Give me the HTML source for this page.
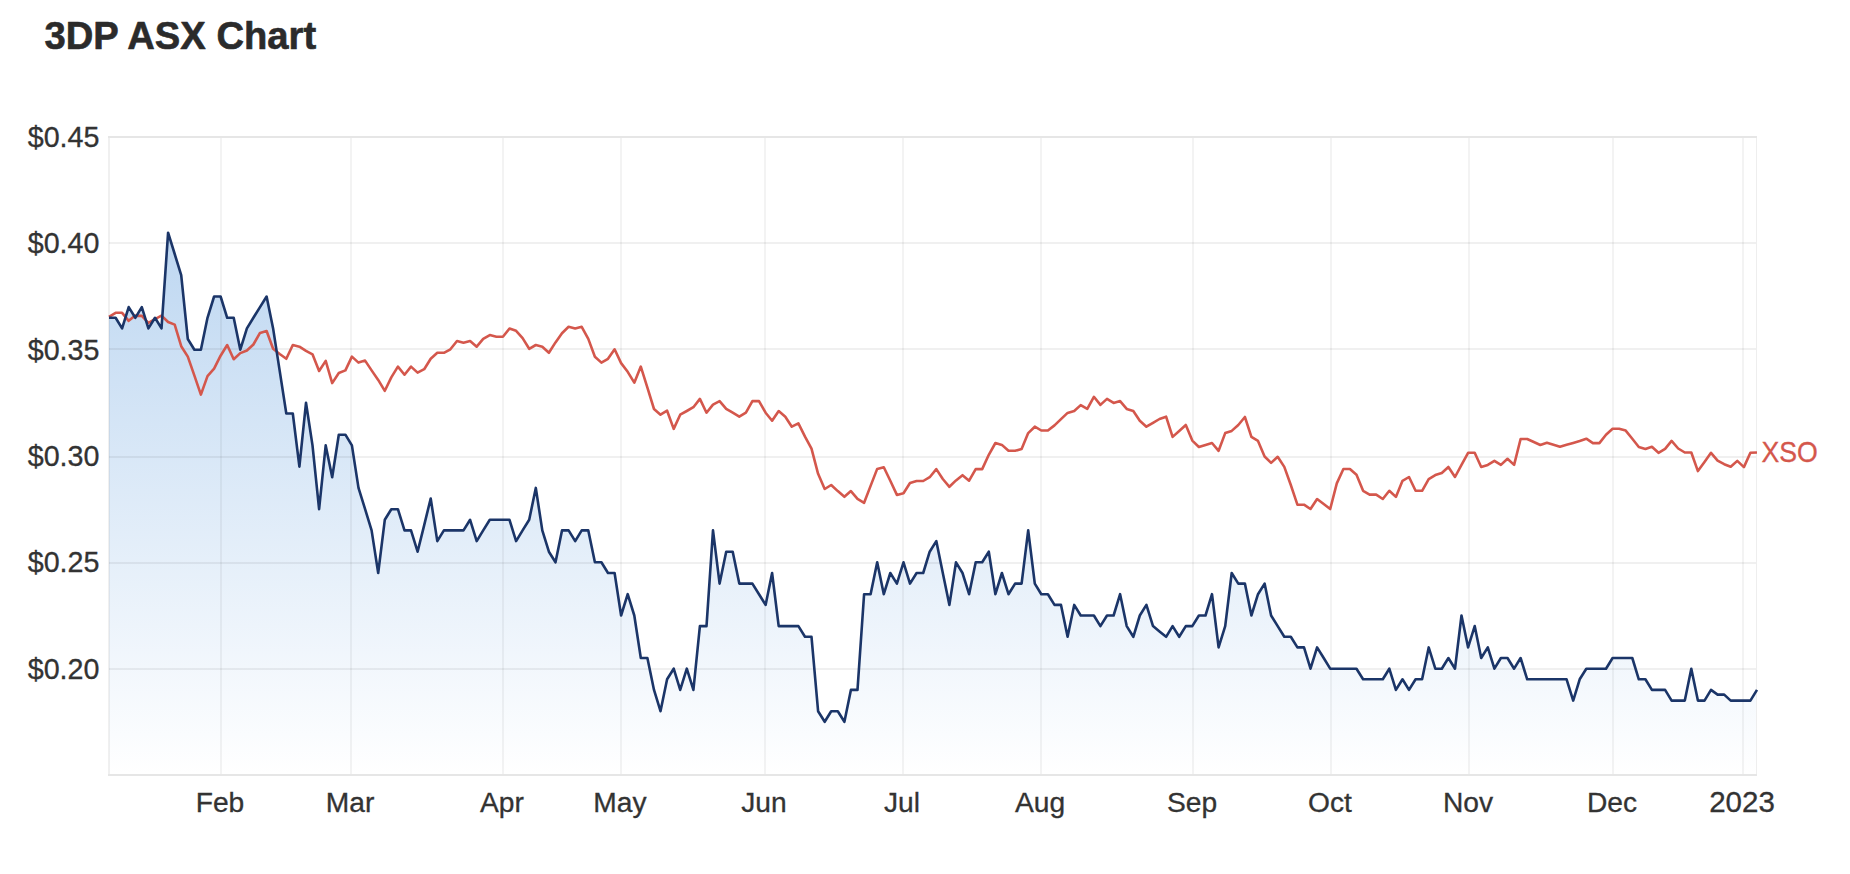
<!DOCTYPE html>
<html lang="en"><head><meta charset="utf-8"><title>3DP ASX Chart</title>
<style>html,body{margin:0;padding:0;background:#fff;}body{width:1850px;height:874px;position:relative;overflow:hidden;}</style></head>
<body>
<svg width="1850" height="874" viewBox="0 0 1850 874" style="position:absolute;left:0;top:0">
<defs><linearGradient id="g" x1="0" y1="0" x2="0" y2="1" gradientUnits="objectBoundingBox"><stop offset="0" stop-color="#4a90d9" stop-opacity="0.36"/><stop offset="1" stop-color="#4a90d9" stop-opacity="0"/></linearGradient></defs>
<path d="M109.0 317.8 L115.6 317.8 L122.1 328.4 L128.7 307.1 L135.3 317.8 L141.8 307.1 L148.4 328.4 L155.0 317.8 L161.5 328.4 L168.1 232.7 L174.7 254.0 L181.2 275.2 L187.8 339.0 L194.4 349.7 L200.9 349.7 L207.5 317.8 L214.1 296.5 L220.6 296.5 L227.2 317.8 L233.7 317.8 L240.3 349.7 L246.9 328.4 L253.4 317.8 L260.0 307.1 L266.6 296.5 L273.1 328.4 L279.7 370.9 L286.3 413.5 L292.8 413.5 L299.4 466.6 L306.0 402.8 L312.5 445.4 L319.1 509.2 L325.7 445.4 L332.2 477.3 L338.8 434.7 L345.4 434.7 L351.9 445.4 L358.5 487.9 L365.1 509.2 L371.6 530.4 L378.2 573.0 L384.8 519.8 L391.3 509.2 L397.9 509.2 L404.5 530.4 L411.0 530.4 L417.6 551.7 L424.2 525.1 L430.7 498.5 L437.3 541.1 L443.9 530.4 L450.4 530.4 L457.0 530.4 L463.5 530.4 L470.1 519.8 L476.7 541.1 L483.2 530.4 L489.8 519.8 L496.4 519.8 L502.9 519.8 L509.5 519.8 L516.1 541.1 L522.6 530.4 L529.2 519.8 L535.8 487.9 L542.3 530.4 L548.9 551.7 L555.5 562.3 L562.0 530.4 L568.6 530.4 L575.2 541.1 L581.7 530.4 L588.3 530.4 L594.9 562.3 L601.4 562.3 L608.0 573.0 L614.6 573.0 L621.1 615.5 L627.7 594.2 L634.3 615.5 L640.8 658.0 L647.4 658.0 L654.0 689.9 L660.5 711.2 L667.1 679.3 L673.7 668.7 L680.2 689.9 L686.8 668.7 L693.4 689.9 L699.9 626.1 L706.5 626.1 L713.0 530.4 L719.6 583.6 L726.2 551.7 L732.7 551.7 L739.3 583.6 L745.9 583.6 L752.4 583.6 L759.0 594.2 L765.6 604.9 L772.1 573.0 L778.7 626.1 L785.3 626.1 L791.8 626.1 L798.4 626.1 L805.0 636.8 L811.5 636.8 L818.1 711.2 L824.7 721.8 L831.2 711.2 L837.8 711.2 L844.4 721.8 L850.9 689.9 L857.5 689.9 L864.1 594.2 L870.6 594.2 L877.2 562.3 L883.8 594.2 L890.3 573.0 L896.9 583.6 L903.5 562.3 L910.0 583.6 L916.6 573.0 L923.2 573.0 L929.7 551.7 L936.3 541.1 L942.8 573.0 L949.4 604.9 L956.0 562.3 L962.5 573.0 L969.1 594.2 L975.7 562.3 L982.2 562.3 L988.8 551.7 L995.4 594.2 L1001.9 573.0 L1008.5 594.2 L1015.1 583.6 L1021.6 583.6 L1028.2 530.4 L1034.8 583.6 L1041.3 594.2 L1047.9 594.2 L1054.5 604.9 L1061.0 604.9 L1067.6 636.8 L1074.2 604.9 L1080.7 615.5 L1087.3 615.5 L1093.9 615.5 L1100.4 626.1 L1107.0 615.5 L1113.6 615.5 L1120.1 594.2 L1126.7 626.1 L1133.3 636.8 L1139.8 615.5 L1146.4 604.9 L1153.0 626.1 L1159.5 631.5 L1166.1 636.8 L1172.6 626.1 L1179.2 636.8 L1185.8 626.1 L1192.3 626.1 L1198.9 615.5 L1205.5 615.5 L1212.0 594.2 L1218.6 647.4 L1225.2 626.1 L1231.7 573.0 L1238.3 583.6 L1244.9 583.6 L1251.4 615.5 L1258.0 594.2 L1264.6 583.6 L1271.1 615.5 L1277.7 626.1 L1284.3 636.8 L1290.8 636.8 L1297.4 647.4 L1304.0 647.4 L1310.5 668.7 L1317.1 647.4 L1323.7 658.0 L1330.2 668.7 L1336.8 668.7 L1343.4 668.7 L1349.9 668.7 L1356.5 668.7 L1363.1 679.3 L1369.6 679.3 L1376.2 679.3 L1382.8 679.3 L1389.3 668.7 L1395.9 689.9 L1402.5 679.3 L1409.0 689.9 L1415.6 679.3 L1422.1 679.3 L1428.7 647.4 L1435.3 668.7 L1441.8 668.7 L1448.4 658.0 L1455.0 668.7 L1461.5 615.5 L1468.1 647.4 L1474.7 626.1 L1481.2 658.0 L1487.8 647.4 L1494.4 668.7 L1500.9 658.0 L1507.5 658.0 L1514.1 668.7 L1520.6 658.0 L1527.2 679.3 L1533.8 679.3 L1540.3 679.3 L1546.9 679.3 L1553.5 679.3 L1560.0 679.3 L1566.6 679.3 L1573.2 700.6 L1579.7 679.3 L1586.3 668.7 L1592.9 668.7 L1599.4 668.7 L1606.0 668.7 L1612.6 658.0 L1619.1 658.0 L1625.7 658.0 L1632.3 658.0 L1638.8 679.3 L1645.4 679.3 L1651.9 689.9 L1658.5 689.9 L1665.1 689.9 L1671.6 700.6 L1678.2 700.6 L1684.8 700.6 L1691.3 668.7 L1697.9 700.6 L1704.5 700.6 L1711.0 689.9 L1717.6 694.6 L1724.2 694.6 L1730.7 700.6 L1737.3 700.6 L1743.9 700.6 L1750.4 700.6 L1757.0 689.9 L1757 775 L109 775 Z" fill="url(#g)" stroke="none"/>
<g fill="#000" fill-opacity="0.057" shape-rendering="crispEdges">
<rect x="109" y="242" width="1648" height="2"/>
<rect x="109" y="348" width="1648" height="2"/>
<rect x="109" y="456" width="1648" height="2"/>
<rect x="109" y="562" width="1648" height="2"/>
<rect x="109" y="668" width="1648" height="2"/>
</g><g fill="#000" fill-opacity="0.046" shape-rendering="crispEdges">
<rect x="220" y="138" width="2" height="636"/>
<rect x="350" y="138" width="2" height="636"/>
<rect x="502" y="138" width="2" height="636"/>
<rect x="620" y="138" width="2" height="636"/>
<rect x="764" y="138" width="2" height="636"/>
<rect x="902" y="138" width="2" height="636"/>
<rect x="1040" y="138" width="2" height="636"/>
<rect x="1192" y="138" width="2" height="636"/>
<rect x="1330" y="138" width="2" height="636"/>
<rect x="1468" y="138" width="2" height="636"/>
<rect x="1612" y="138" width="2" height="636"/>
<rect x="1742" y="138" width="2" height="636"/>
</g>
<g shape-rendering="crispEdges">
<rect x="108" y="136" width="1649" height="2" fill="#e6e6e6"/>
<rect x="108" y="774" width="1649" height="2" fill="#e6e6e6"/>
<rect x="108" y="138" width="2" height="636" fill="#000" fill-opacity="0.06"/>
<rect x="1756" y="138" width="1" height="636" fill="#eeeeee"/>
</g>
<path d="M109.0 316.8 L115.6 312.8 L122.1 312.8 L128.7 320.8 L135.3 315.6 L141.8 315.9 L148.4 322.9 L155.0 319.1 L161.5 315.6 L168.1 322.0 L174.7 324.6 L181.2 346.2 L187.8 356.6 L194.4 375.6 L200.9 394.6 L207.5 376.1 L214.1 368.7 L220.6 355.7 L227.2 345.0 L233.7 359.2 L240.3 353.1 L246.9 350.5 L253.4 344.5 L260.0 332.9 L266.6 331.0 L273.1 348.8 L279.7 354.0 L286.3 358.8 L292.8 345.0 L299.4 346.7 L306.0 350.9 L312.5 354.3 L319.1 371.0 L325.7 360.9 L332.2 383.1 L338.8 373.0 L345.4 370.4 L351.9 356.6 L358.5 362.6 L365.1 360.6 L371.6 370.4 L378.2 379.9 L384.8 390.8 L391.3 377.4 L397.9 366.6 L404.5 374.7 L411.0 366.6 L417.6 372.6 L424.2 369.2 L430.7 358.8 L437.3 352.8 L443.9 352.8 L450.4 349.3 L457.0 341.0 L463.5 342.7 L470.1 341.0 L476.7 346.7 L483.2 338.9 L489.8 335.1 L496.4 336.7 L502.9 336.8 L509.5 328.5 L516.1 330.8 L522.6 338.1 L529.2 348.8 L535.8 345.0 L542.3 346.7 L548.9 352.8 L555.5 342.4 L562.0 333.2 L568.6 326.8 L575.2 328.5 L581.7 326.8 L588.3 338.9 L594.9 356.7 L601.4 362.6 L608.0 358.8 L614.6 349.3 L621.1 363.1 L627.7 371.8 L634.3 382.7 L640.8 366.6 L647.4 387.7 L654.0 409.0 L660.5 414.7 L667.1 410.7 L673.7 428.9 L680.2 414.7 L686.8 411.0 L693.4 407.2 L699.9 398.9 L706.5 412.7 L713.0 404.6 L719.6 401.1 L726.2 408.9 L732.7 412.7 L739.3 416.7 L745.9 412.7 L752.4 401.1 L759.0 401.1 L765.6 412.7 L772.1 420.7 L778.7 411.0 L785.3 416.7 L791.8 426.7 L798.4 423.3 L805.0 436.6 L811.5 448.7 L818.1 473.8 L824.7 489.0 L831.2 485.0 L837.8 491.1 L844.4 496.8 L850.9 491.1 L857.5 498.9 L864.1 502.8 L870.6 485.9 L877.2 468.9 L883.8 467.2 L890.3 480.7 L896.9 494.9 L903.5 493.2 L910.0 483.0 L916.6 481.0 L923.2 481.0 L929.7 477.2 L936.3 469.1 L942.8 479.0 L949.4 486.8 L956.0 480.4 L962.5 475.2 L969.1 480.7 L975.7 469.1 L982.2 469.1 L988.8 454.8 L995.4 443.0 L1001.9 444.9 L1008.5 450.8 L1015.1 450.8 L1021.6 449.0 L1028.2 433.1 L1034.8 426.7 L1041.3 430.5 L1047.9 430.5 L1054.5 425.4 L1061.0 419.1 L1067.6 412.9 L1074.2 411.0 L1080.7 405.1 L1087.3 408.9 L1093.9 396.8 L1100.4 404.9 L1107.0 398.9 L1113.6 402.9 L1120.1 401.1 L1126.7 408.9 L1133.3 411.0 L1139.8 420.7 L1146.4 426.7 L1153.0 422.8 L1159.5 419.0 L1166.1 416.7 L1172.6 436.9 L1179.2 431.0 L1185.8 425.0 L1192.3 440.6 L1198.9 447.0 L1205.5 444.9 L1212.0 443.0 L1218.6 450.8 L1225.2 433.1 L1231.7 430.9 L1238.3 425.0 L1244.9 417.0 L1251.4 436.9 L1258.0 440.9 L1264.6 456.5 L1271.1 462.9 L1277.7 456.8 L1284.3 466.9 L1290.8 485.0 L1297.4 504.6 L1304.0 504.7 L1310.5 509.0 L1317.1 499.0 L1323.7 504.0 L1330.2 509.0 L1336.8 483.4 L1343.4 469.0 L1349.9 469.0 L1356.5 474.8 L1363.1 490.8 L1369.6 494.6 L1376.2 494.6 L1382.8 499.0 L1389.3 490.8 L1395.9 496.9 L1402.5 480.8 L1409.0 477.0 L1415.6 490.8 L1422.1 490.8 L1428.7 479.1 L1435.3 475.1 L1441.8 473.0 L1448.4 467.0 L1455.0 477.0 L1461.5 464.9 L1468.1 452.8 L1474.7 452.8 L1481.2 467.0 L1487.8 464.9 L1494.4 460.9 L1500.9 464.9 L1507.5 458.8 L1514.1 464.9 L1520.6 439.0 L1527.2 439.0 L1533.8 442.0 L1540.3 445.0 L1546.9 442.8 L1553.5 444.7 L1560.0 446.7 L1566.6 444.8 L1573.2 442.9 L1579.7 441.0 L1586.3 438.7 L1592.9 443.1 L1599.4 443.1 L1606.0 434.7 L1612.6 428.8 L1619.1 428.8 L1625.7 430.6 L1632.3 438.7 L1638.8 447.0 L1645.4 448.9 L1651.9 446.7 L1658.5 452.8 L1665.1 448.9 L1671.6 440.9 L1678.2 448.5 L1684.8 452.5 L1691.3 452.5 L1697.9 471.1 L1704.5 462.0 L1711.0 452.8 L1717.6 460.6 L1724.2 464.2 L1730.7 466.8 L1737.3 460.9 L1743.9 467.1 L1750.4 452.8 L1757.0 452.5" fill="none" stroke="#d4574c" stroke-width="2.6" stroke-linejoin="round" stroke-linecap="butt"/>
<path d="M109.0 317.8 L115.6 317.8 L122.1 328.4 L128.7 307.1 L135.3 317.8 L141.8 307.1 L148.4 328.4 L155.0 317.8 L161.5 328.4 L168.1 232.7 L174.7 254.0 L181.2 275.2 L187.8 339.0 L194.4 349.7 L200.9 349.7 L207.5 317.8 L214.1 296.5 L220.6 296.5 L227.2 317.8 L233.7 317.8 L240.3 349.7 L246.9 328.4 L253.4 317.8 L260.0 307.1 L266.6 296.5 L273.1 328.4 L279.7 370.9 L286.3 413.5 L292.8 413.5 L299.4 466.6 L306.0 402.8 L312.5 445.4 L319.1 509.2 L325.7 445.4 L332.2 477.3 L338.8 434.7 L345.4 434.7 L351.9 445.4 L358.5 487.9 L365.1 509.2 L371.6 530.4 L378.2 573.0 L384.8 519.8 L391.3 509.2 L397.9 509.2 L404.5 530.4 L411.0 530.4 L417.6 551.7 L424.2 525.1 L430.7 498.5 L437.3 541.1 L443.9 530.4 L450.4 530.4 L457.0 530.4 L463.5 530.4 L470.1 519.8 L476.7 541.1 L483.2 530.4 L489.8 519.8 L496.4 519.8 L502.9 519.8 L509.5 519.8 L516.1 541.1 L522.6 530.4 L529.2 519.8 L535.8 487.9 L542.3 530.4 L548.9 551.7 L555.5 562.3 L562.0 530.4 L568.6 530.4 L575.2 541.1 L581.7 530.4 L588.3 530.4 L594.9 562.3 L601.4 562.3 L608.0 573.0 L614.6 573.0 L621.1 615.5 L627.7 594.2 L634.3 615.5 L640.8 658.0 L647.4 658.0 L654.0 689.9 L660.5 711.2 L667.1 679.3 L673.7 668.7 L680.2 689.9 L686.8 668.7 L693.4 689.9 L699.9 626.1 L706.5 626.1 L713.0 530.4 L719.6 583.6 L726.2 551.7 L732.7 551.7 L739.3 583.6 L745.9 583.6 L752.4 583.6 L759.0 594.2 L765.6 604.9 L772.1 573.0 L778.7 626.1 L785.3 626.1 L791.8 626.1 L798.4 626.1 L805.0 636.8 L811.5 636.8 L818.1 711.2 L824.7 721.8 L831.2 711.2 L837.8 711.2 L844.4 721.8 L850.9 689.9 L857.5 689.9 L864.1 594.2 L870.6 594.2 L877.2 562.3 L883.8 594.2 L890.3 573.0 L896.9 583.6 L903.5 562.3 L910.0 583.6 L916.6 573.0 L923.2 573.0 L929.7 551.7 L936.3 541.1 L942.8 573.0 L949.4 604.9 L956.0 562.3 L962.5 573.0 L969.1 594.2 L975.7 562.3 L982.2 562.3 L988.8 551.7 L995.4 594.2 L1001.9 573.0 L1008.5 594.2 L1015.1 583.6 L1021.6 583.6 L1028.2 530.4 L1034.8 583.6 L1041.3 594.2 L1047.9 594.2 L1054.5 604.9 L1061.0 604.9 L1067.6 636.8 L1074.2 604.9 L1080.7 615.5 L1087.3 615.5 L1093.9 615.5 L1100.4 626.1 L1107.0 615.5 L1113.6 615.5 L1120.1 594.2 L1126.7 626.1 L1133.3 636.8 L1139.8 615.5 L1146.4 604.9 L1153.0 626.1 L1159.5 631.5 L1166.1 636.8 L1172.6 626.1 L1179.2 636.8 L1185.8 626.1 L1192.3 626.1 L1198.9 615.5 L1205.5 615.5 L1212.0 594.2 L1218.6 647.4 L1225.2 626.1 L1231.7 573.0 L1238.3 583.6 L1244.9 583.6 L1251.4 615.5 L1258.0 594.2 L1264.6 583.6 L1271.1 615.5 L1277.7 626.1 L1284.3 636.8 L1290.8 636.8 L1297.4 647.4 L1304.0 647.4 L1310.5 668.7 L1317.1 647.4 L1323.7 658.0 L1330.2 668.7 L1336.8 668.7 L1343.4 668.7 L1349.9 668.7 L1356.5 668.7 L1363.1 679.3 L1369.6 679.3 L1376.2 679.3 L1382.8 679.3 L1389.3 668.7 L1395.9 689.9 L1402.5 679.3 L1409.0 689.9 L1415.6 679.3 L1422.1 679.3 L1428.7 647.4 L1435.3 668.7 L1441.8 668.7 L1448.4 658.0 L1455.0 668.7 L1461.5 615.5 L1468.1 647.4 L1474.7 626.1 L1481.2 658.0 L1487.8 647.4 L1494.4 668.7 L1500.9 658.0 L1507.5 658.0 L1514.1 668.7 L1520.6 658.0 L1527.2 679.3 L1533.8 679.3 L1540.3 679.3 L1546.9 679.3 L1553.5 679.3 L1560.0 679.3 L1566.6 679.3 L1573.2 700.6 L1579.7 679.3 L1586.3 668.7 L1592.9 668.7 L1599.4 668.7 L1606.0 668.7 L1612.6 658.0 L1619.1 658.0 L1625.7 658.0 L1632.3 658.0 L1638.8 679.3 L1645.4 679.3 L1651.9 689.9 L1658.5 689.9 L1665.1 689.9 L1671.6 700.6 L1678.2 700.6 L1684.8 700.6 L1691.3 668.7 L1697.9 700.6 L1704.5 700.6 L1711.0 689.9 L1717.6 694.6 L1724.2 694.6 L1730.7 700.6 L1737.3 700.6 L1743.9 700.6 L1750.4 700.6 L1757.0 689.9" fill="none" stroke="#1b3568" stroke-width="2.6" stroke-linejoin="round" stroke-linecap="butt"/>
<g font-family="'Liberation Sans', Arial, Helvetica, sans-serif" font-size="28.7" fill="#333333" stroke="#333333" stroke-width="0.3" text-anchor="end">
<text x="99.5" y="147.0">$0.45</text>
<text x="99.5" y="253.3">$0.40</text>
<text x="99.5" y="359.7">$0.35</text>
<text x="99.5" y="466.0">$0.30</text>
<text x="99.5" y="572.3">$0.25</text>
<text x="99.5" y="678.7">$0.20</text>
</g>
<g font-family="'Liberation Sans', Arial, Helvetica, sans-serif" font-size="28.2" fill="#333333" stroke="#333333" stroke-width="0.3" text-anchor="middle">
<text x="220" y="811.6">Feb</text>
<text x="350" y="811.6">Mar</text>
<text x="502" y="811.6">Apr</text>
<text x="620" y="811.6">May</text>
<text x="764" y="811.6">Jun</text>
<text x="902" y="811.6">Jul</text>
<text x="1040" y="811.6">Aug</text>
<text x="1192" y="811.6">Sep</text>
<text x="1330" y="811.6">Oct</text>
<text x="1468" y="811.6">Nov</text>
<text x="1612" y="811.6">Dec</text>
<text x="1742" y="811.6" font-size="29.5">2023</text>
</g>
<text x="1761.5" y="462.3" font-family="'Liberation Sans', Arial, Helvetica, sans-serif" font-size="28.6" fill="#d4574c" stroke="#d4574c" stroke-width="0.3" textLength="56.4" lengthAdjust="spacingAndGlyphs">XSO</text>
<text x="44.5" y="48.8" font-family="'Liberation Sans', Arial, Helvetica, sans-serif" font-weight="bold" font-size="38.2" fill="#2b2b2b" stroke="#2b2b2b" stroke-width="0.6" stroke-linejoin="round">3DP ASX Chart</text>
</svg>
</body></html>
